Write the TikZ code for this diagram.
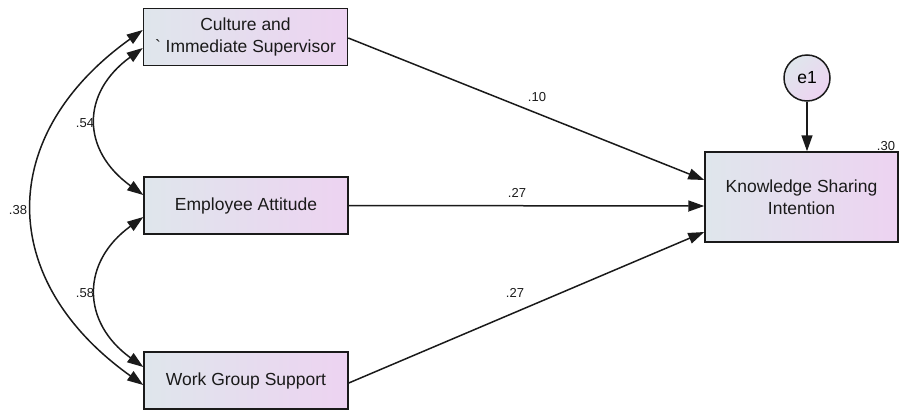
\documentclass[tikz,border=0pt]{standalone}
\usepackage{fontspec}
\setmainfont{Liberation Sans}
\usetikzlibrary{arrows.meta}
\definecolor{boxleft}{HTML}{DFE6EC}
\definecolor{boxright}{HTML}{EDD3F1}
\definecolor{inkline}{HTML}{1A1A1A}
\begin{document}
\begin{tikzpicture}[x=1pt,y=-1pt,
  obsbox/.style={draw=inkline, line width=1.5pt, left color=boxleft, right color=boxright,
    minimum width=#1, minimum height=57pt, inner sep=0pt, align=center,
    font=\fontsize{17.5}{22.5}\selectfont, text=inkline},
  errcirc/.style={draw=inkline, line width=1.5pt, circle, minimum size=46pt, inner sep=0pt,
    shading=axis, left color=boxleft, right color=boxright, shading angle=45,
    font=\fontsize{17.5}{22}\selectfont},
  path/.style={draw=inkline, line width=1.5pt, -{Triangle[length=16pt,width=11pt]}},
  cov/.style={draw=inkline, line width=1.5pt, {Triangle[length=16pt,width=11pt]}-{Triangle[length=16pt,width=11pt]}},
  coef/.style={font=\fontsize{13}{15}\selectfont, text=inkline, inner sep=0pt}]
\useasboundingbox (0,0) rectangle (900,410);

% observed variables
\node[obsbox=204pt] (cult) at (245.5,37) {Culture and\\\textasciigrave{} Immediate Supervisor};
\node[obsbox=204pt] (emp)  at (246,205.5) {Employee Attitude};
\node[obsbox=204pt] (wgs)  at (246,380.5) {Work Group Support};
\node[obsbox=193pt, minimum height=90pt] (ksi) at (801.5,197) {Knowledge Sharing\\Intention};
\node[errcirc] (e1) at (807,78) {e1};

% regression paths
\draw[path] ([yshift=-1pt]cult.east) -- ([yshift=17pt]ksi.west);
\draw[path] (emp.east) -- ([yshift=-9pt]ksi.west);
\draw[path] ([yshift=-2.5pt]wgs.east) -- ([yshift=-35pt]ksi.west);
\draw[path] (e1.south) -- (e1.south |- ksi.north);

% covariances
\draw[cov] ([yshift=7pt]cult.west) .. controls (-4,135) and (-4,280) .. ([yshift=-4.5pt]wgs.west);
\draw[cov] ([yshift=-11pt]cult.west) .. controls (81,93) and (81,150) .. ([yshift=10.5pt]emp.west);
\draw[cov] ([yshift=-11.5pt]emp.west) .. controls (81,262) and (81,322) .. ([yshift=13.5pt]wgs.west);

% estimates
\node[coef] (c1) at (537,97) {.10};
\node[coef] (c2) at (517,193) {.27};
\node[coef] (c3) at (515,293) {.27};
\node[coef] (c4) at (85,123) {.54};
\node[coef] (c5) at (85,293) {.58};
\node[coef] (c6) at (18,210) {.38};
\node[coef] (c7) at (886,146) {.30};
\end{tikzpicture}
\end{document}
